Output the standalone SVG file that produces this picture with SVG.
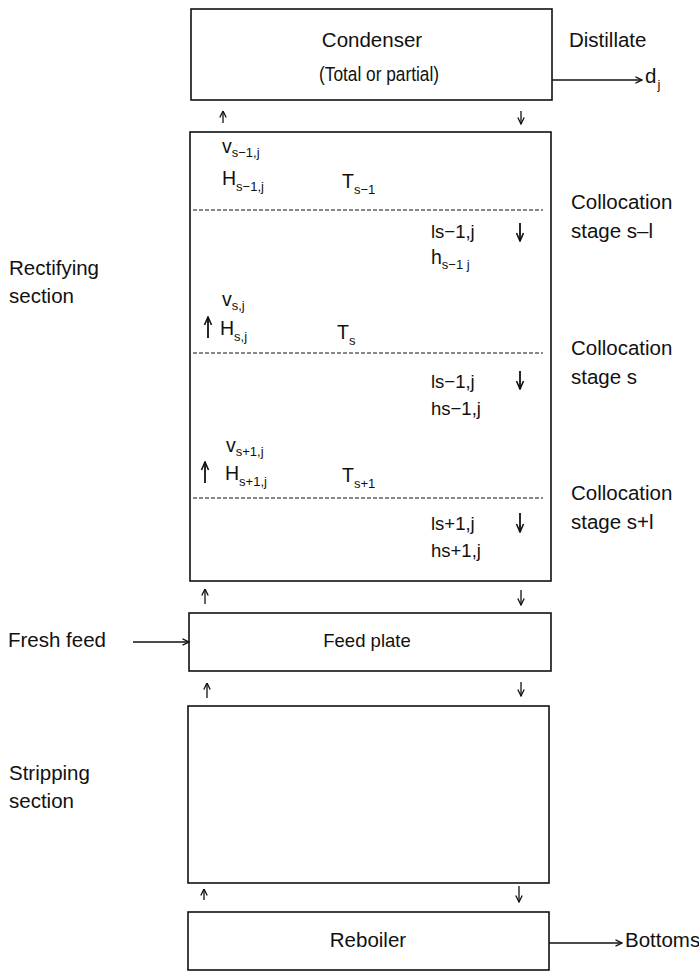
<svg xmlns="http://www.w3.org/2000/svg" width="699" height="972" viewBox="0 0 699 972">
<style>
text{font-family:"Liberation Sans",Arial,Helvetica,sans-serif;fill:#111}
.lbl{font-size:20.5px}
.in{font-size:19.5px}
.fl{font-size:18.5px}
.sub{font-size:13px}
.box{fill:none;stroke:#111;stroke-width:1.6}
.dash{stroke:#111;stroke-width:1.2;stroke-dasharray:4 2;fill:none}
.c{stroke:#111;stroke-width:1.3;fill:none}
.cb{stroke:#111;stroke-width:1.8;fill:none}
</style>
<defs>
<marker id="ah" viewBox="0 0 8 8" refX="7.5" refY="4" markerWidth="8" markerHeight="8" markerUnits="userSpaceOnUse" orient="auto">
<path d="M1,0.8 L7.5,4 L1,7.2" fill="none" stroke="#111" stroke-width="1.3"/>
</marker>
<marker id="ahb" viewBox="0 0 10 10" refX="9" refY="5" markerWidth="10" markerHeight="10" markerUnits="userSpaceOnUse" orient="auto">
<path d="M1,1.5 L9,5 L1,8.5" fill="none" stroke="#111" stroke-width="1.6"/>
</marker>
</defs>
<rect width="699" height="972" fill="#fff"/>

<g id="condenser">
<rect class="box" x="191" y="9" width="361" height="91"/>
<text class="lbl" x="372" y="47" text-anchor="middle">Condenser</text>
<text class="lbl" x="319" y="81" textLength="120" lengthAdjust="spacingAndGlyphs">(Total or partial)</text>
</g>
<g id="distillate">
<text class="lbl" x="569" y="47">Distillate</text>
<text class="lbl" x="645" y="83">d<tspan class="sub" dx="1" dy="6">j</tspan></text>
</g>

<g id="rectifying">
<rect class="box" x="190" y="132" width="361" height="449"/>
<line class="dash" x1="193" y1="210" x2="543" y2="210"/>
<line class="dash" x1="193" y1="353" x2="543" y2="353"/>
<line class="dash" x1="193" y1="498" x2="543" y2="498"/>
<text class="in" x="222" y="153">v<tspan class="sub" dy="4">s−1,j</tspan></text>
<text class="in" x="222" y="185">H<tspan class="sub" dy="6">s−1,j</tspan></text>
<text class="in" x="342" y="188">T<tspan class="sub" dy="6">s−1</tspan></text>
<text class="fl" x="431" y="238">ls−1,j</text>
<text class="in" x="431" y="264">h<tspan class="sub" dy="5">s−1 j</tspan></text>

<text class="in" x="222" y="306">v<tspan class="sub" dy="4">s,j</tspan></text>
<text class="in" x="220" y="335">H<tspan class="sub" dy="6">s,j</tspan></text>
<text class="in" x="337" y="339">T<tspan class="sub" dy="6">s</tspan></text>
<text class="fl" x="431" y="388">ls−1,j</text>
<text class="fl" x="431" y="415">hs−1,j</text>

<text class="in" x="226" y="452">v<tspan class="sub" dy="4">s+1,j</tspan></text>
<text class="in" x="225" y="480">H<tspan class="sub" dy="6">s+1,j</tspan></text>
<text class="in" x="342" y="482">T<tspan class="sub" dy="6">s+1</tspan></text>
<text class="fl" x="431" y="530">ls+1,j</text>
<text class="fl" x="431" y="557">hs+1,j</text>
</g>

<g id="rectifying-label">
<text class="lbl" x="9" y="275">Rectifying</text>
<text class="lbl" x="9" y="303">section</text>
</g>

<g id="stage-labels">
<text class="lbl" x="571" y="209">Collocation</text>
<text class="lbl" x="571" y="238">stage s–l</text>
<text class="lbl" x="571" y="355">Collocation</text>
<text class="lbl" x="571" y="384">stage s</text>
<text class="lbl" x="571" y="500">Collocation</text>
<text class="lbl" x="571" y="529">stage s+l</text>
</g>

<g id="feed-plate">
<rect class="box" x="189" y="613" width="362" height="58"/>
<text class="fl" x="367" y="647" text-anchor="middle">Feed plate</text>
</g>
<g id="fresh-feed">
<text class="lbl" x="8" y="647">Fresh feed</text>
</g>

<g id="stripping">
<rect class="box" x="188" y="706" width="361" height="177"/>
</g>
<g id="stripping-label">
<text class="lbl" x="9" y="780">Stripping</text>
<text class="lbl" x="9" y="808">section</text>
</g>

<g id="reboiler">
<rect class="box" x="188" y="912" width="361" height="58"/>
<text class="lbl" x="368" y="947" text-anchor="middle">Reboiler</text>
</g>
<g id="bottoms">
<text class="lbl" x="625" y="947">Bottoms</text>
</g>

<g id="connectors">
<line class="c" x1="552" y1="80" x2="642" y2="80" marker-end="url(#ah)"/>
<line class="c" x1="223" y1="123" x2="223" y2="111" marker-end="url(#ah)"/>
<line class="c" x1="521" y1="111" x2="521" y2="124" marker-end="url(#ah)"/>
<line class="cb" x1="520" y1="223" x2="520" y2="241" marker-end="url(#ahb)"/>
<line class="cb" x1="208" y1="338" x2="208" y2="317" marker-end="url(#ahb)"/>
<line class="cb" x1="520" y1="371" x2="520" y2="389" marker-end="url(#ahb)"/>
<line class="cb" x1="205" y1="483" x2="205" y2="462" marker-end="url(#ahb)"/>
<line class="cb" x1="520" y1="513" x2="520" y2="532" marker-end="url(#ahb)"/>
<line class="c" x1="205" y1="604" x2="205" y2="589" marker-end="url(#ah)"/>
<line class="c" x1="521" y1="590" x2="521" y2="605" marker-end="url(#ah)"/>
<line class="c" x1="133" y1="642" x2="189" y2="642" marker-end="url(#ah)"/>
<line class="c" x1="207" y1="698" x2="207" y2="683" marker-end="url(#ah)"/>
<line class="c" x1="521" y1="682" x2="521" y2="696" marker-end="url(#ah)"/>
<line class="c" x1="204" y1="900" x2="204" y2="889" marker-end="url(#ah)"/>
<line class="c" x1="519" y1="886" x2="519" y2="902" marker-end="url(#ah)"/>
<line class="c" x1="549" y1="943" x2="622" y2="943" marker-end="url(#ah)"/>
</g>
</svg>
